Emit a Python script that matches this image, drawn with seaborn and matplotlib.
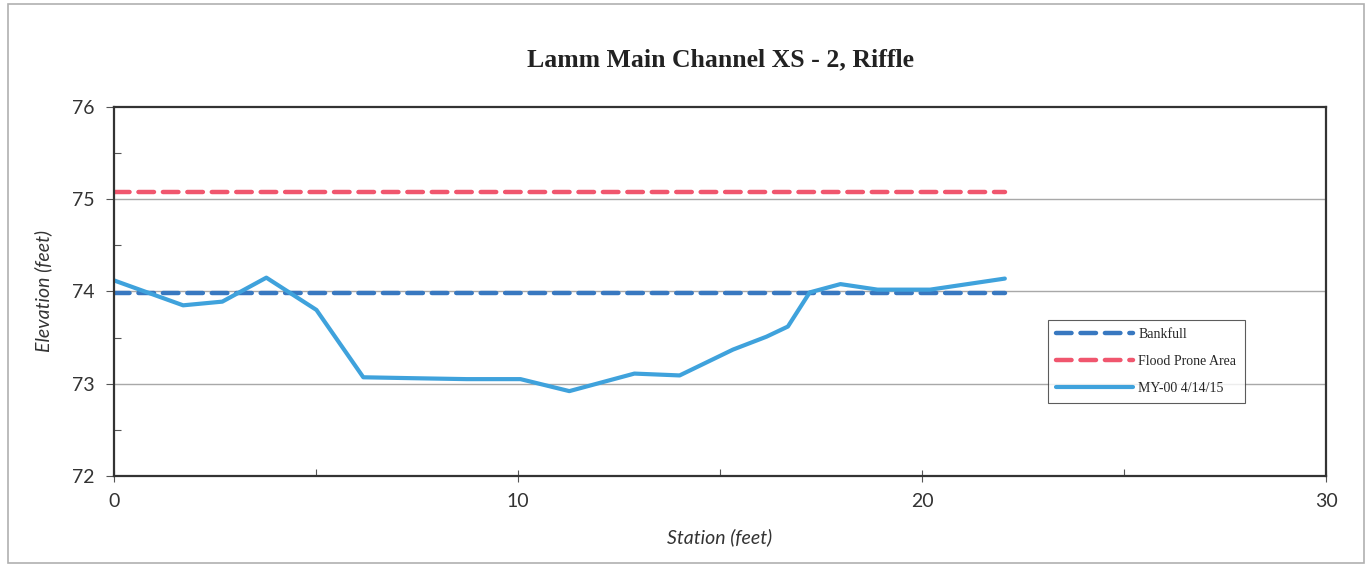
import matplotlib
matplotlib.use("Agg")
import matplotlib.pyplot as plt
import seaborn as sns
from matplotlib.patches import Rectangle

# cross-section survey
station = [0, 1.71, 2.68, 3.77, 5.01, 6.17, 7.4, 8.73, 10.06, 11.27, 12.88, 14.0,
           15.32, 16.15, 16.68, 17.22, 17.98, 18.9, 20.2, 22.05]
elevation = [74.12, 73.85, 73.89, 74.15, 73.80, 73.07, 73.06, 73.05, 73.05, 72.92, 73.11, 73.09,
             73.37, 73.51, 73.62, 73.99, 74.08, 74.02, 74.02, 74.14]

bankfull_x = [0, 22.05]
bankfull_y = [73.98, 73.98]
flood_x = [0, 22.05]
flood_y = [75.08, 75.08]

sns.set_style("white")
plt.rcParams['font.family'] = ['Liberation Serif', 'DejaVu Serif']
sans = ['Lato', 'DejaVu Sans']

fig = plt.figure(figsize=(13.69, 5.73), dpi=100)
ax = fig.add_axes([0.0833, 0.1693, 0.8853, 0.644])

# outer frame of the chart area
fig.patches.append(Rectangle((0.006, 0.018), 0.99, 0.975, transform=fig.transFigure,
                             fill=False, edgecolor='#b0b0b0', linewidth=1.2))

for yv in [73, 74, 75]:
    ax.axhline(yv, color='#a8a8a8', linewidth=1.0, zorder=0)

sns.lineplot(x=bankfull_x, y=bankfull_y, ax=ax, color='#3878c0', linewidth=3.2,
             label='Bankfull')
sns.lineplot(x=flood_x, y=flood_y, ax=ax, color='#f0566e', linewidth=3.2,
             label='Flood Prone Area')
sns.lineplot(x=station, y=elevation, ax=ax, color='#3fa2dc', linewidth=3.0,
             sort=False, label='MY-00 4/14/15')
ax.lines[-3].set_dashes([3.5, 2])
ax.lines[-2].set_dashes([3.5, 2])
for ln in ax.lines[-3:]:
    ln.set_solid_capstyle('round')
    ln.set_dash_capstyle('round')

ax.set_xlim(0, 30)
ax.set_ylim(72, 76)
ax.set_xticks([0, 10, 20, 30])
ax.set_xticks([5, 15, 25], minor=True)
ax.set_yticks([72, 73, 74, 75, 76])
ax.set_yticks([72.5, 73.5, 74.5, 75.5], minor=True)
ax.tick_params(axis='x', which='major', direction='inout', length=9, width=0.8,
               labelsize=14, pad=8, color='#555555', labelcolor='#333333')
ax.tick_params(axis='x', which='minor', direction='in', length=5, width=0.8, color='#555555')
ax.tick_params(axis='y', which='major', direction='out', length=6, width=0.8,
               labelsize=14, pad=8, color='#555555', labelcolor='#333333')
ax.tick_params(axis='y', which='minor', direction='in', length=5, width=0.8, color='#555555')
ax.xaxis.set_ticks_position('bottom')
ax.yaxis.set_ticks_position('left')
for lbl in ax.get_xticklabels() + ax.get_yticklabels():
    lbl.set_family(sans)

for sp in ax.spines.values():
    sp.set_color('#333333')
    sp.set_linewidth(1.6)

ax.set_title('Lamm Main Channel XS - 2, Riffle', fontsize=18.5, fontweight='bold',
             color='#222222', pad=29)
ax.set_xlabel('Station (feet)', fontsize=14, fontstyle='italic', color='#333333',
              labelpad=13, family=sans)
ax.set_ylabel('Elevation (feet)', fontsize=14, fontstyle='italic', color='#333333',
              labelpad=14, family=sans)

leg = ax.legend(loc='upper left', bbox_to_anchor=(0.7706, 0.423), fontsize=10,
                frameon=True, fancybox=False, handlelength=5.5, labelspacing=1.0,
                borderpad=0.6, handletextpad=0.4, borderaxespad=0)
leg.get_frame().set_edgecolor('#333333')
leg.get_frame().set_linewidth(0.8)

plt.savefig("out.png", dpi=100)
